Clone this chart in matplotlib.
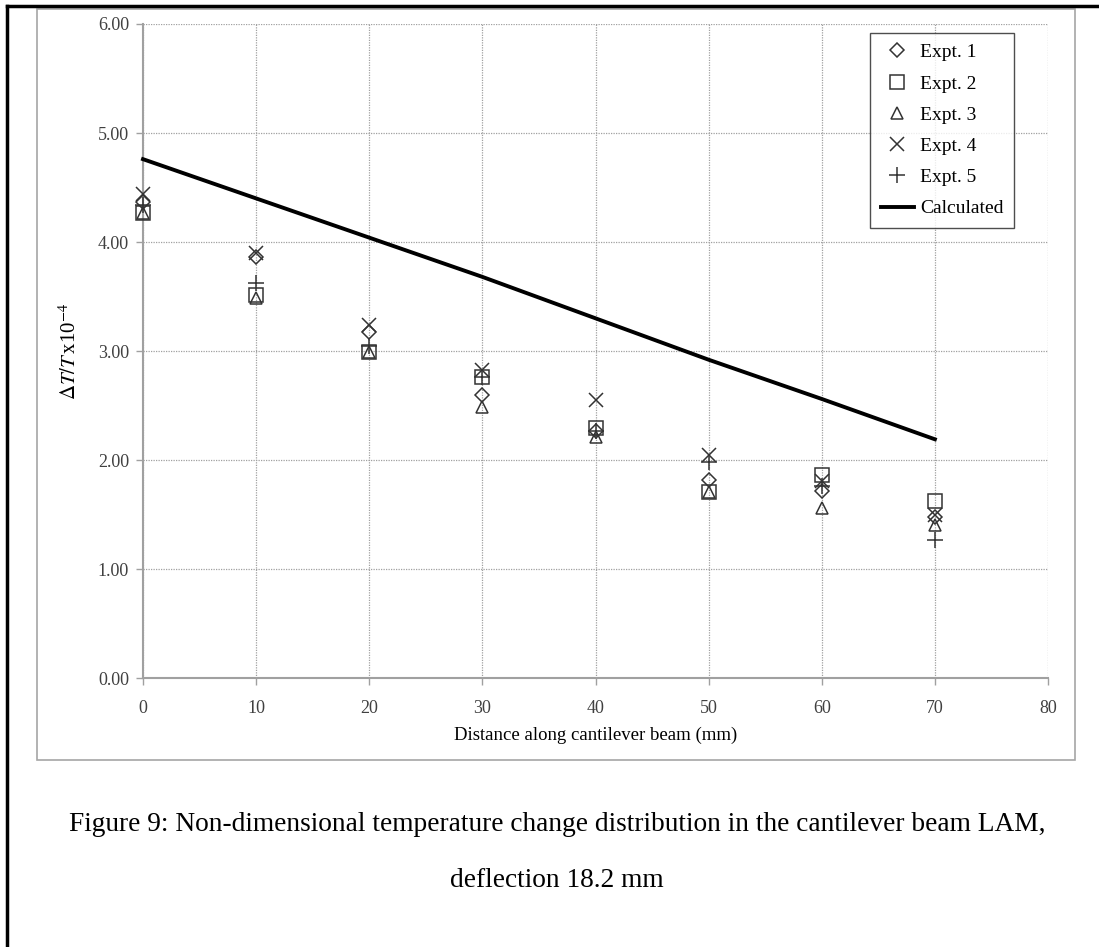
import numpy as np
import matplotlib
matplotlib.use("Agg")
import matplotlib.pyplot as plt
from matplotlib.lines import Line2D
from matplotlib.patches import Rectangle

# -------------------------
# data
# -------------------------
distance = [0, 10, 20, 30, 40, 50, 60, 70]

expt1 = [4.37, 3.86, 3.17, 2.60, 2.27, 1.82, 1.72, 1.48]
expt2 = [4.27, 3.51, 2.99, 2.76, 2.29, 1.71, 1.86, 1.62]
expt3 = [4.27, 3.49, 2.99, 2.49, 2.21, 1.71, 1.56, 1.40]
expt4 = [4.44, 3.90, 3.24, 2.83, 2.55, 2.05, 1.81, 1.50]
expt5 = [4.34, 3.62, 3.05, 2.76, 2.27, 1.98, 1.76, 1.27]

calculated = [4.76, 4.40, 4.04, 3.68, 3.30, 2.92, 2.56, 2.19]

series_labels = ["Expt. 1", "Expt. 2", "Expt. 3", "Expt. 4", "Expt. 5"]
x_ticks = [0, 10, 20, 30, 40, 50, 60, 70, 80]
y_ticks = [0, 1, 2, 3, 4, 5, 6]

plt.rcParams['font.family'] = ['Liberation Serif', 'DejaVu Serif']
plt.rcParams['mathtext.fontset'] = 'stix'

W, H = 1099, 947
fig = plt.figure(figsize=(W / 100, H / 100), dpi=100)

# page frame (left + top black rule) and grey chart-area border
fig.add_artist(Line2D([7 / W, 7 / W], [0, 1 - 6 / H], color='black', lw=2.5))
fig.add_artist(Line2D([7 / W, 1], [1 - 6 / H, 1 - 6 / H], color='black', lw=2.5))
fig.add_artist(Rectangle((37 / W, 1 - 760 / H), (1075 - 37) / W, (760 - 9) / H,
                         fill=False, edgecolor='#a6a6a6', lw=1.2))

ax = fig.add_axes([143 / W, 1 - 678 / H, (1048 - 143) / W, (678 - 24) / H])

mk_color = '#333333'
markers = ['D', 's', '^', 'x', '+']
sizes = [7, 9.5, 9, 10, 11]
all_expts = [expt1, expt2, expt3, expt4, expt5]
for ys, m, s, lab in zip(all_expts, markers, sizes, series_labels):
    ax.plot(distance, ys, linestyle='none', marker=m, markersize=s,
            markerfacecolor='none', markeredgecolor=mk_color,
            markeredgewidth=1.1, label=lab, zorder=3, clip_on=False)

ax.plot(distance, calculated, color='black', lw=2.8, label='Calculated',
        zorder=4, clip_on=False)

ax.set_xlim(0, 80)
ax.set_ylim(0, 6)
ax.set_xticks(x_ticks)
ax.set_yticks(y_ticks)
ax.set_yticklabels([f"{v:.2f}" for v in y_ticks])
ax.grid(True, color='#a0a0a0', linestyle=(0, (1, 1)), lw=0.9)
ax.set_axisbelow(True)

for side in ['top', 'right']:
    ax.spines[side].set_visible(False)
for side in ['left', 'bottom']:
    ax.spines[side].set_color('#a0a0a0')
    ax.spines[side].set_linewidth(1.5)

ax.tick_params(axis='both', colors='#a0a0a0', labelcolor='#404040',
               labelsize=13, length=5, width=1)
ax.tick_params(axis='x', pad=11)
ax.tick_params(axis='y', pad=5)

ax.set_xlabel("Distance along cantilever beam (mm)", fontsize=13.5, labelpad=7)
ax.set_ylabel(r"$\mathit{\Delta T/T}\,$x10$^{-4}$", fontsize=15, labelpad=12)

leg = ax.legend(loc='upper right', bbox_to_anchor=(1014 / W, 1 - 33 / H),
                bbox_transform=fig.transFigure, fontsize=14,
                frameon=True, fancybox=False, handlelength=1.7,
                handletextpad=0.3, labelspacing=0.7, borderpad=0.55,
                borderaxespad=0)
leg.get_frame().set_edgecolor('#222222')
leg.get_frame().set_linewidth(1.0)

fig.text(0.507, 1 - 824 / H,
         "Figure 9: Non-dimensional temperature change distribution in the cantilever beam LAM,",
         ha='center', va='center', fontsize=19.7)
fig.text(0.507, 1 - 880 / H, "deflection 18.2 mm",
         ha='center', va='center', fontsize=19.7)

fig.savefig("out.png", dpi=100)
